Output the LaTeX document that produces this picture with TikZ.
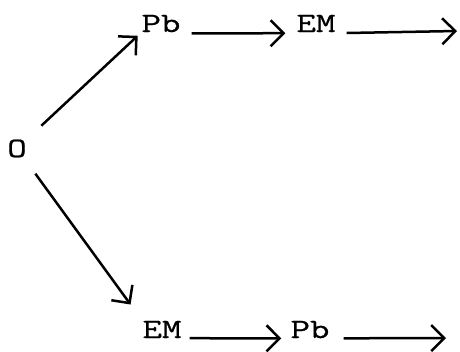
\documentclass[tikz,border=0pt]{standalone}
\usepackage{fontspec}
\newfontfamily\twfont{Latin Modern Mono}[FakeStretch=1.35, FakeBold=0.8]
\usetikzlibrary{arrows.meta}
\begin{document}
\begin{tikzpicture}[x=1pt,y=-1pt,
  lbl/.style={font=\twfont\fontsize{28}{28}\selectfont, inner sep=0pt, anchor=base},
  arr/.style={line width=2.5pt, -{Straight Barb[length=13pt,width=26pt,line width=2.5pt]}},
  harr/.style={arr, shorten <=11pt, shorten >=11pt}]
\useasboundingbox (0,0) rectangle (460,351);
\node[lbl] (O) at (17,157) {O};
\node[lbl] (Pb1) at (161,32) {Pb};
\node[lbl] (EM1) at (316,32) {EM};
\node[lbl] (EM2) at (162,338) {EM};
\node[lbl] (Pb2) at (310,338) {Pb};
\coordinate (e1) at (457,31);
\coordinate (e2) at (446,338);
\draw[arr, shorten <=20pt, shorten >=5pt] (O) -- (Pb1.south west);
\draw[arr, shorten <=20pt, shorten >=20pt] (O) -- (EM2.north west);
\draw[harr] ([yshift=-1pt]Pb1.south east) -- ([yshift=-1pt]EM1.south west);
\draw[harr, shorten >=0pt] ([yshift=-1pt]EM1.south east) -- (e1);
\draw[harr, shorten <=8pt, shorten >=9pt] (EM2.south east) -- (Pb2.south west);
\draw[harr, shorten >=0pt, shorten <=14pt] (Pb2.south east) -- (e2);
\end{tikzpicture}
\end{document}
